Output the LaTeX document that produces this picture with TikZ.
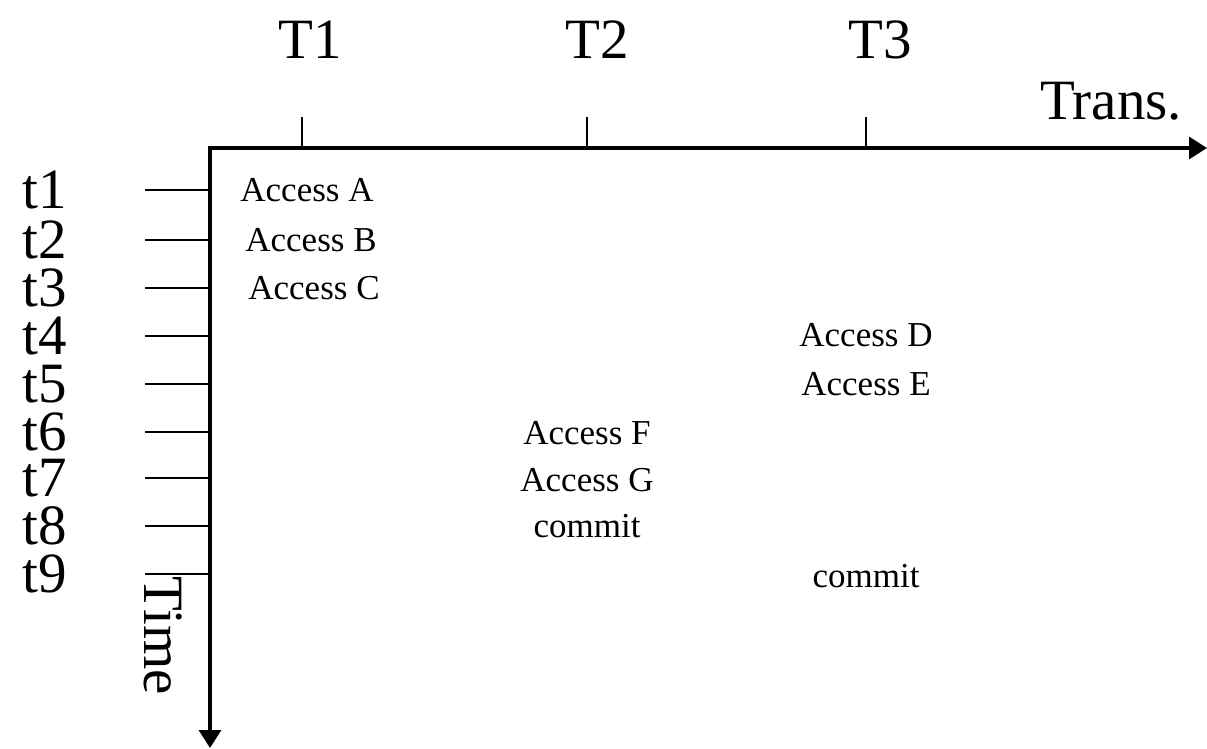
\documentclass[tikz,border=0pt]{standalone}
\usepackage{fontspec}
\setmainfont{Liberation Serif}
\usetikzlibrary{arrows.meta}
\begin{document}
\begin{tikzpicture}[x=1pt,y=-1pt,
  axis/.style={line width=3.4pt,-{Triangle[length=18pt,width=22pt]}},
  tick/.style={line width=2.8pt},
  big/.style={font=\fontsize{57}{60}\selectfont,inner sep=0pt},
  small/.style={font=\fontsize{35}{37}\selectfont,inner sep=0pt}]
\useasboundingbox (0,0) rectangle (1207,748);
\coordinate (o) at (210,148);
\coordinate (xe) at (1207,148);
\coordinate (ye) at (210,748);
\draw[axis] (208.3,148) -- (xe);
\draw[axis] (o) -- (ye);
% top ticks
\foreach \x/\n in {302/1,587/2,866/3}{
  \coordinate (ta\n) at (\x,117);
  \coordinate (tb\n) at (\x,148);
  \draw[tick] (ta\n) -- (tb\n);
}
\node[big] (T1) at (310,40) {T1};
\node[big] (T2) at (597,40) {T2};
\node[big] (T3) at (880,40) {T3};
\node[big] (trans) at (1111,101) {Trans.};
% left ticks
\foreach \y [count=\i] in {190,240,288,336,384,432,478,526,574}{
  \coordinate (la\i) at (145,\y);
  \coordinate (lb\i) at (210,\y);
  \draw[tick] (la\i) -- (lb\i);
  \node[big] (tl\i) at (45,\y) {t\i};
}
\node[big,rotate=-90] (time) at (163,636) {Time};
% events
\node[small] (eA) at (307,190) {Access A};
\node[small] (eB) at (311,240) {Access B};
\node[small] (eC) at (314,288) {Access C};
\node[small] (eD) at (866,335) {Access D};
\node[small] (eE) at (866,384) {Access E};
\node[small] (eF) at (587,433) {Access F};
\node[small] (eG) at (587,480) {Access G};
\node[small] (c2) at (587,526) {commit};
\node[small] (c3) at (866,576) {commit};
\end{tikzpicture}
\end{document}
